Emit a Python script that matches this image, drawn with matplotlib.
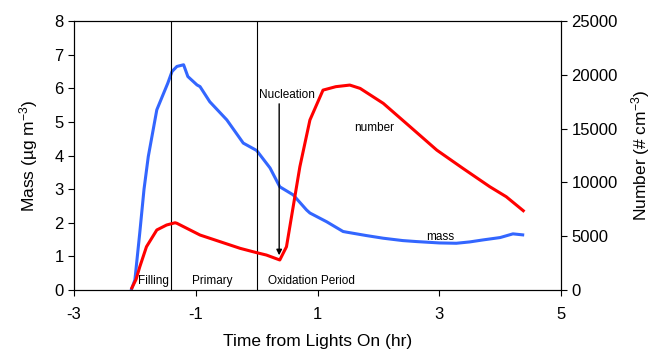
import matplotlib.pyplot as plt

plt.rcParams['font.family'] = ['Liberation Sans', 'DejaVu Sans']
plt.rcParams['axes.unicode_minus'] = False
plt.rcParams['mathtext.fontset'] = 'custom'
plt.rcParams['mathtext.rm'] = 'Liberation Sans'
plt.rcParams['mathtext.default'] = 'regular'

# mass (left axis, ug m-3)
mass_t = [-2.06, -2.0, -1.92, -1.85, -1.78, -1.64, -1.54, -1.46, -1.39, -1.31, -1.2,
          -1.13, -0.98, -0.93, -0.77, -0.49, -0.22, 0.0, 0.22, 0.38, 0.6, 0.82,
          0.875, 1.15, 1.42, 1.48, 1.8, 2.08, 2.4, 2.63, 3.0, 3.28, 3.5, 3.72,
          4.0, 4.21, 4.37]
mass = [0.0, 0.3, 1.7, 3.0, 3.97, 5.36, 5.8, 6.15, 6.5, 6.65, 6.7,
        6.35, 6.1, 6.05, 5.6, 5.06, 4.37, 4.15, 3.63, 3.07, 2.83, 2.38,
        2.29, 2.03, 1.74, 1.72, 1.62, 1.54, 1.47, 1.44, 1.40, 1.39, 1.43, 1.49,
        1.56, 1.67, 1.64]

# number (right axis, # cm-3)
num_t = [-2.05, -1.98, -1.92, -1.81, -1.64, -1.48, -1.34, -1.31, -0.93, -0.6,
         -0.27, 0.0, 0.16, 0.38, 0.49, 0.6, 0.71, 0.875, 1.09, 1.3, 1.53,
         1.7, 2.08, 2.52, 2.96, 3.39, 3.83, 4.1, 4.38]
number = [190, 1000, 2150, 4020, 5580, 6040, 6250, 6200, 5110, 4490,
          3870, 3470, 3250, 2790, 4020, 7740, 11460, 15800, 18580, 18900, 19050,
          18740, 17350, 15180, 13000, 11300, 9600, 8670, 7370]

phase_lines = [-1.4, 0.0]
phase_labels = ['Filling', 'Primary', 'Oxidation Period']
phase_x = [-1.69, -0.73, 0.90]

fig = plt.figure(figsize=(6.51, 3.51), dpi=100)
ax = fig.add_axes([0.1137, 0.1738, 0.7481, 0.7662])
ax2 = ax.twinx()

ax.plot(mass_t, mass, color='#3366FF', lw=2.2)
ax2.plot(num_t, number, color='#FF0000', lw=2.2)

for x in phase_lines:
    ax.axvline(x, color='black', lw=0.8)

ax.set_xlim(-3, 5)
ax.set_ylim(0, 8)
ax2.set_ylim(0, 25000)
ax.set_xticks([-3, -1, 1, 3, 5])
ax.set_yticks(range(0, 9))
ax2.set_yticks(range(0, 25001, 5000))

ax.tick_params(labelsize=12, length=4, width=0.8)
ax.tick_params(axis='x', pad=8)
ax2.tick_params(labelsize=12, length=4, width=0.8)

ax.set_xlabel('Time from Lights On (hr)', fontsize=12.5, labelpad=9)
ax.set_ylabel('Mass (\u00b5g m$^{-3}$)', fontsize=12.5, labelpad=10)
ax2.set_ylabel('Number (# cm$^{-3}$)', fontsize=12.5, labelpad=8)

for lab, x in zip(phase_labels, phase_x):
    ax.text(x, 0.1, lab, fontsize=8.5, ha='center', va='bottom')

ax.text(0.5, 5.8, 'Nucleation', fontsize=8.5, ha='center', va='center')
ax.annotate('', xy=(0.37, 0.95), xytext=(0.37, 5.62),
            arrowprops=dict(arrowstyle='-|>', color='black', lw=1, mutation_scale=8))
ax.text(1.93, 4.82, 'number', fontsize=8.5, ha='center', va='center')
ax.text(3.01, 1.58, 'mass', fontsize=8.5, ha='center', va='center')

for a in (ax, ax2):
    for s in a.spines.values():
        s.set_linewidth(0.8)

fig.savefig('out.png', dpi=100)
